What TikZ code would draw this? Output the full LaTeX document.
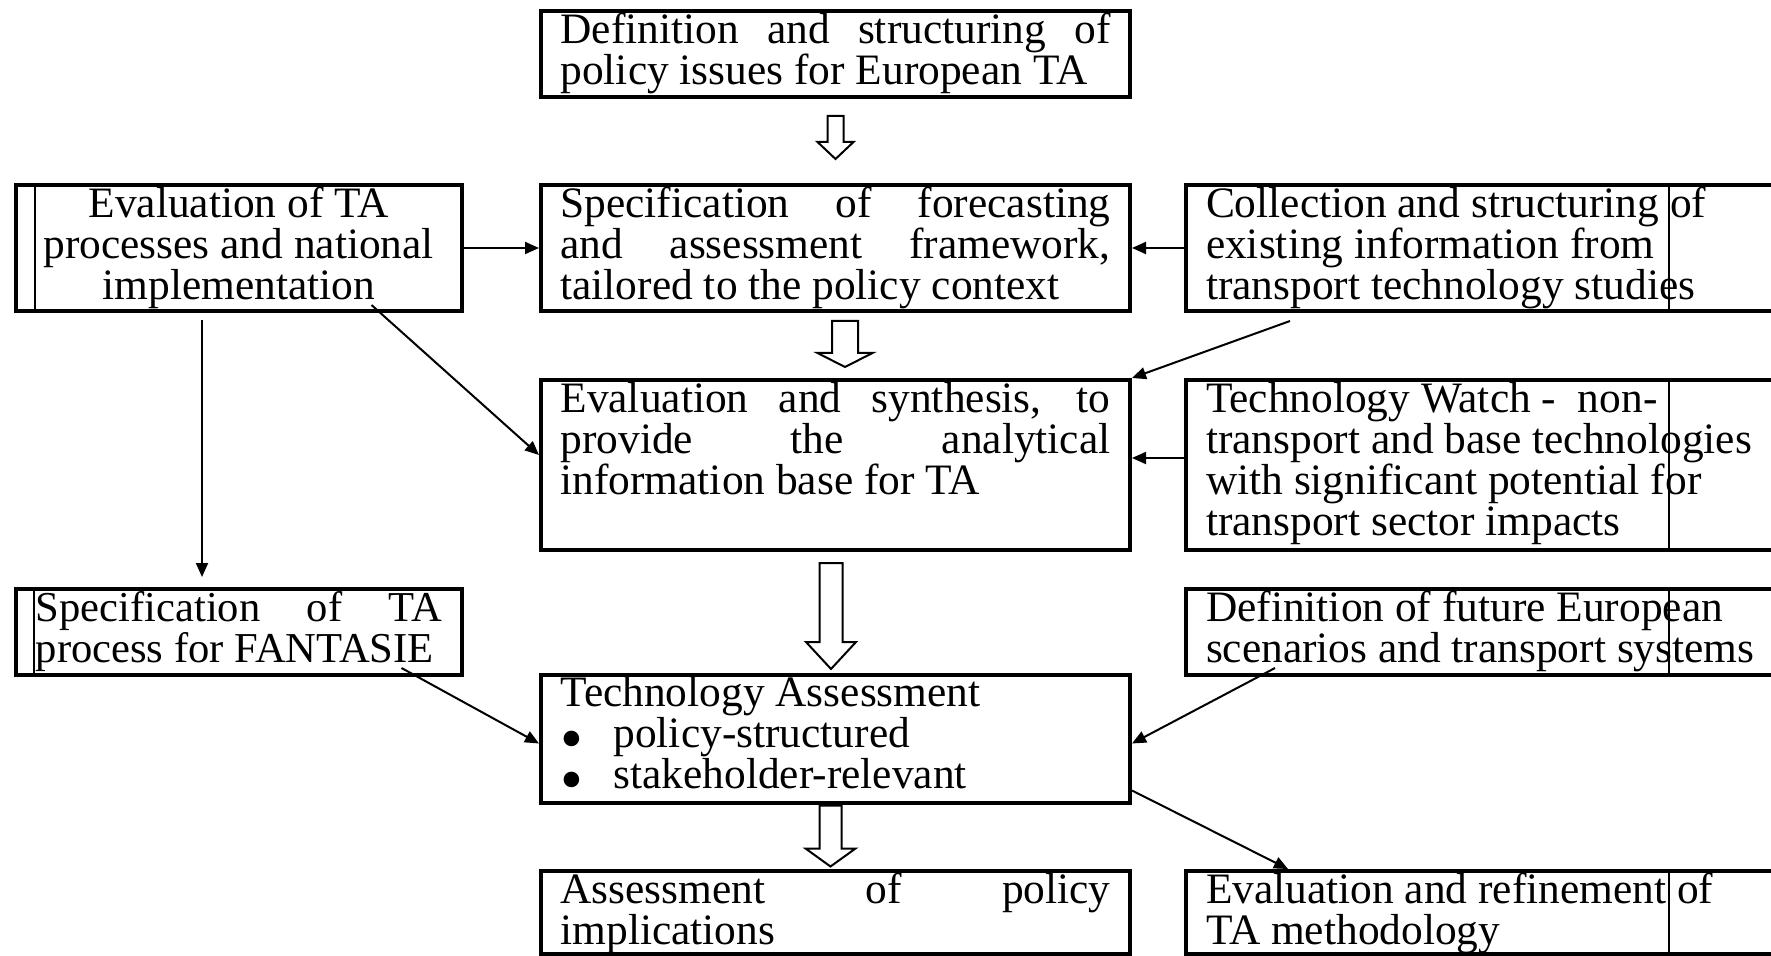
\documentclass[tikz,border=0pt]{standalone}
\usepackage{fontspec}
\usepackage{graphicx}
\setmainfont{Liberation Serif}
\usetikzlibrary{arrows.meta}
\tolerance=10000
\hbadness=10000
\vbadness=10000

\newcommand{\cellbox}[4][21.7pt]{\parbox[t][#3][t]{#2}{\fontsize{#1}{20.5pt}\selectfont
  \lineskiplimit=-10pt\strut #4}}
\newcommand{\bul}{\makebox[26.5pt][l]{\raisebox{-0.3em}{\scalebox{1.5}{\textbullet}}}}

\begin{document}
\begin{tikzpicture}[x=0.5pt, y=-0.5pt,
  box/.style={draw, line width=2pt, anchor=north west, inner ysep=1.15pt},
  midbox/.style={box, inner xsep=9.75pt},
  sidebox/.style={box, inner xsep=8.375pt},
  farbox/.style={box, inner xsep=10pt},
  conn/.style={line width=1pt, -{Triangle[length=7pt, width=6pt]}},
  divider/.style={line width=0.9pt},
  hollow/.style={line width=1pt, fill=white, line join=miter}]
  \useasboundingbox (0,0) rectangle (1771,956);

  % Middle column
  \node[midbox] (top) at (539,9)
    {\cellbox{275pt}{40.7pt}{Definition and structuring of\linebreak policy issues for European TA}};
  \node[midbox] (spec) at (539,183)
    {\cellbox{275pt}{60.7pt}{Specification of forecasting\linebreak and assessment framework,\linebreak tailored to the policy context}};
  \node[midbox] (synth) at (539,378)
    {\cellbox{275pt}{82.7pt}{Evaluation and synthesis, to\linebreak provide the analytical\linebreak information base for TA}};
  \node[midbox] (ta) at (539,672.5)
    {\cellbox{275pt}{61.7pt}{Technology Assessment\\ \bul policy-structured\\ \bul stakeholder-relevant}};
  \node[midbox] (impl) at (539,869)
    {\cellbox{275pt}{39.2pt}{Assessment of policy\linebreak implications}};

  % Left column
  \node[sidebox] (lEval) at (14,183)
    {\cellbox{206pt}{60.7pt}{\centering Evaluation of TA\\ processes and national\\ implementation}};
  \node[sidebox, inner xsep=9.875pt] (lspec) at (14,587)
    {\cellbox[21.3pt]{203pt}{40.7pt}{Specification of TA\linebreak process for FANTASIE}};

  % Right column
  \node[farbox] (collect) at (1184,183)
    {\cellbox{300pt}{60.7pt}{\raggedright Collection and structuring of\\ existing information from\\ transport technology studies}};
  \node[farbox] (watch) at (1184,378)
    {\cellbox{300pt}{82.7pt}{\raggedright Technology Watch -\ \ non-\\ transport and base technologies\\ with significant potential for\\ transport sector impacts}};
  \node[farbox] (future) at (1184,587)
    {\cellbox{300pt}{40.7pt}{\raggedright Definition of future European\\ scenarios and transport systems}};
  \node[farbox] (refine) at (1184,869)
    {\cellbox{300pt}{39.2pt}{\raggedright Evaluation and refinement of\\ TA methodology}};

  % Inner table lines
  \draw[divider] ([shift={(21,0)}]lEval.north west) -- ([shift={(21,0)}]lEval.south west);
  \draw[divider] ([shift={(20,0)}]lspec.north west) -- ([shift={(20,0)}]lspec.south west);
  \draw[divider] ([shift={(485,0)}]collect.north west) -- ([shift={(485,0)}]collect.south west);
  \draw[divider] ([shift={(485,0)}]watch.north west) -- ([shift={(485,0)}]watch.south west);
  \draw[divider] ([shift={(485,0)}]future.north west) -- ([shift={(485,0)}]future.south west);
  \draw[divider] ([shift={(485,0)}]refine.north west) -- ([shift={(485,0)}]refine.south west);

  % Hollow block arrows
  \draw[hollow] ([shift={(-8,17)}]top.south) -- ++(16,0) -- ++(0,26) -- ++(10,0)
    -- ++(-18,17) -- ++(-18,-17) -- ++(10,0) -- cycle;
  \draw[hollow] ([shift={(-3.5,8)}]spec.south) -- ++(26,0) -- ++(0,32) -- ++(14.5,0)
    -- ++(-27.5,14) -- ++(-27.5,-14) -- ++(14.5,0) -- cycle;
  \draw[hollow] ([shift={(-16,11)}]synth.south) -- ++(23,0) -- ++(0,79) -- ++(13.5,0)
    -- ++(-25,27) -- ++(-25,-27) -- ++(13.5,0) -- cycle;
  \draw[hollow] ([shift={(-16,1)}]ta.south) -- ++(22,0) -- ++(0,43) -- ++(14,0)
    -- ++(-25,18) -- ++(-25,-18) -- ++(14,0) -- cycle;

  % Connectors
  \draw[conn] (lEval) -- (spec);
  \draw[conn] (collect.west) -- (spec.east);
  \draw[conn, shorten <=3.5pt, shorten >=5pt] ([shift={(188,0)}]lEval.south west)
    -- ([shift={(188,0)}]lspec.north west);
  \draw[conn] ([shift={(-92,-8)}]lEval.south east) -- ([shift={(0,-10)}]synth.west);
  \draw[conn] ([shift={(106,8)}]collect.south west) -- (synth.north east);
  \draw[conn] ([shift={(0,-7)}]watch.west) -- ([shift={(0,-7)}]synth.east);
  \draw[conn] ([shift={(-62,-9)}]lspec.south east) -- ([shift={(0,5)}]ta.west);
  \draw[conn] ([shift={(91,-9)}]future.south west) -- ([shift={(0,5)}]ta.east);
  \draw[conn] ([shift={(0,52)}]ta.east) -- ([shift={(104,0)}]refine.north west);
\end{tikzpicture}
\end{document}
